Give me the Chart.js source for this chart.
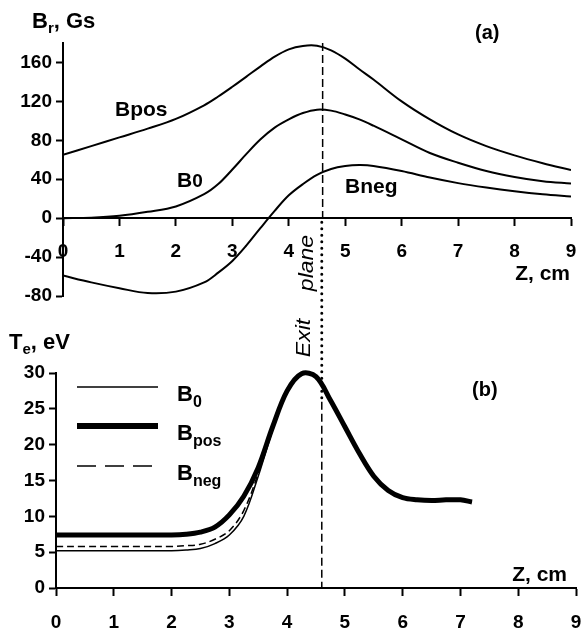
<!DOCTYPE html>
<html>
<head>
<meta charset="utf-8">
<script src="https://cdn.jsdelivr.net/npm/chart.js@4.4.0/dist/chart.umd.min.js"></script>
<style>
  body { margin: 0; background: #fff; }
  .box { position: absolute; left: 0; top: 0; width: 584px; height: 633px; }
</style>
</head>
<body>
<div class="box"><canvas id="fieldChart"></canvas></div>
<div class="box"><canvas id="tempChart"></canvas></div>
<script>
// (a) radial magnetic field, Gs
const zField = [0, 0.5, 1, 1.5, 2, 2.5, 2.75, 3, 3.25, 3.5, 3.75, 4, 4.25, 4.5, 4.75, 5, 5.25, 5.5, 6, 6.5, 7, 7.5, 8, 8.5, 9];
const bPos = [65, 74, 83, 92, 102, 116, 125, 135, 145.5, 156, 166, 173.5, 177, 177.2, 172.5, 164, 153, 142.5, 120, 101.5, 86, 74, 64.5, 56.5, 49.5];
const bZero = [0, 0.5, 2.4, 6.5, 12, 24.6, 35, 50, 66, 81, 93, 101.5, 108, 111.5, 110.5, 106.5, 101.5, 95, 81, 67, 57, 48.5, 42.4, 38, 35.6];
const bNeg = [-59, -66, -72, -77, -75.5, -66, -56, -44, -28, -10, 7.5, 23.5, 35, 44.5, 50.5, 53.5, 54.5, 53.7, 48.5, 41.7, 36, 31.5, 27.7, 24.6, 22.3];

// (b) electron temperature, eV
const zTemp = [0, 0.5, 1, 1.5, 2, 2.25, 2.5, 2.75, 3, 3.25, 3.5, 3.75, 4, 4.25, 4.5, 4.75, 5, 5.25, 5.5, 5.75, 6, 6.25, 6.5, 6.75, 7, 7.2];
const tePos = [7.4, 7.4, 7.4, 7.4, 7.4, 7.5, 7.8, 8.5, 10.2, 12.8, 16.8, 22.5, 27.5, 29.9, 29.5, 26.2, 22.5, 18.8, 15.6, 13.6, 12.6, 12.3, 12.2, 12.3, 12.3, 12.0];
const teZero = [5.2, 5.2, 5.2, 5.2, 5.2, 5.3, 5.5, 6.2, 7.4, 10.0, 15.6, 22.0, 27.5, 29.9, 29.5, 26.2, 22.5, 18.8, 15.6, 13.6, 12.6, 12.3, 12.2, 12.3, 12.3, 12.0];
const teNeg = [5.8, 5.8, 5.8, 5.8, 5.8, 5.9, 6.1, 6.8, 8.0, 10.8, 16.0, 22.2, 27.5, 29.9, 29.5, 26.2, 22.5, 18.8, 15.6, 13.6, 12.6, 12.3, 12.2, 12.3, 12.3, 12.0];

const exitZ = 4.6;
const FONT = '"Liberation Sans", Arial, Helvetica, sans-serif';
const tickFont = { family: FONT, size: 19, weight: 'bold' };

function pts(xs, ys) {
  return xs.map((x, i) => ({ x: x, y: ys[i] }));
}

function drawParts(ctx, x, y, parts, align) {
  let w = 0;
  parts.forEach(p => {
    ctx.font = 'bold ' + p.size + 'px ' + FONT;
    w += ctx.measureText(p.t).width;
  });
  if (align === 'right') x -= w;
  parts.forEach(p => {
    ctx.font = 'bold ' + p.size + 'px ' + FONT;
    ctx.fillText(p.t, x, y + (p.dy || 0));
    x += ctx.measureText(p.t).width;
  });
}

function drawRotated(ctx, text, cx, cy) {
  ctx.save();
  ctx.translate(cx, cy);
  ctx.rotate(-Math.PI / 2);
  ctx.scale(1.15, 1);
  ctx.font = 'italic 20px ' + FONT;
  ctx.textAlign = 'center';
  ctx.textBaseline = 'middle';
  ctx.fillText(text, 0, 0);
  ctx.restore();
}

function textPlugin(items, rotated) {
  return {
    id: 'texts',
    afterDraw(chart) {
      const ctx = chart.ctx;
      ctx.save();
      ctx.fillStyle = '#000';
      ctx.textBaseline = 'alphabetic';
      items.forEach(it => drawParts(ctx, it.x, it.y, it.parts, it.align));
      rotated.forEach(r => drawRotated(ctx, r.t, r.x, r.y));
      ctx.restore();
    }
  };
}

function strokeV(ctx, x, y1, y2, width, dash, cap) {
  ctx.beginPath();
  ctx.lineWidth = width;
  ctx.lineCap = cap || 'butt';
  ctx.setLineDash(dash);
  ctx.moveTo(x, y1);
  ctx.lineTo(x, y2);
  ctx.stroke();
}

let fieldChart;

const fieldPlane = {
  id: 'plane',
  beforeDatasetsDraw(chart) {
    const { ctx, scales: { x, y } } = chart;
    const px = x.getPixelForValue(exitZ);
    ctx.save();
    ctx.strokeStyle = '#000';
    strokeV(ctx, px, y.getPixelForValue(180), y.getPixelForValue(0), 1.5, [8, 4]);
    ctx.restore();
  }
};

const tempPlane = {
  id: 'plane',
  beforeDatasetsDraw(chart) {
    const { ctx, scales: { x, y } } = chart;
    const px = x.getPixelForValue(exitZ);
    const top = fieldChart.scales.y.getPixelForValue(0);
    ctx.save();
    ctx.strokeStyle = '#000';
    strokeV(ctx, px, top + 4, y.getPixelForValue(26), 3, [0, 6.5], 'round');
    strokeV(ctx, px, y.getPixelForValue(26), y.getPixelForValue(0), 1.5, [8, 4]);
    ctx.restore();
  }
};

const legendPlugin = {
  id: 'sideLegend',
  afterDatasetsDraw(chart) {
    const ctx = chart.ctx;
    const rows = [
      { ds: 0, y: 387, sub: '0' },
      { ds: 1, y: 426, sub: 'pos' },
      { ds: 2, y: 466, sub: 'neg' }
    ];
    ctx.save();
    ctx.strokeStyle = '#000';
    ctx.fillStyle = '#000';
    rows.forEach(r => {
      const d = chart.data.datasets[r.ds];
      ctx.beginPath();
      ctx.lineWidth = d.borderWidth === 5 ? 6 : d.borderWidth;
      ctx.setLineDash(d.borderDash ? [19, 9] : []);
      ctx.moveTo(77, r.y);
      ctx.lineTo(158, r.y);
      ctx.stroke();
      drawParts(ctx, 177, r.y + 14, [{ t: 'B', size: 22 }, { t: r.sub, size: 16, dy: 6 }]);
    });
    ctx.restore();
  }
};

function axisCommon(extra) {
  return Object.assign({
    type: 'linear',
    grid: { drawOnChartArea: false, drawTicks: true, tickLength: 7, tickWidth: 2, tickColor: '#000', color: '#000' },
    border: { display: true, color: '#000', width: 2 }
  }, extra);
}

fieldChart = new Chart(document.getElementById('fieldChart'), {
  type: 'line',
  data: {
    datasets: [
      { label: 'Bpos', data: pts(zField, bPos) },
      { label: 'B0', data: pts(zField, bZero) },
      { label: 'Bneg', data: pts(zField, bNeg) }
    ]
  },
  options: {
    responsive: true,
    maintainAspectRatio: false,
    animation: false,
    layout: { padding: { left: 0, right: 13, top: 43, bottom: 337 } },
    plugins: { legend: { display: false }, tooltip: { enabled: false } },
    elements: {
      point: { radius: 0 },
      line: { borderColor: '#000', borderWidth: 2, tension: 0.35, capBezierPoints: false, fill: false }
    },
    scales: {
      x: axisCommon({
        min: 0, max: 9, position: { y: 0 },
        ticks: { stepSize: 1, color: '#000', font: tickFont, padding: 15, maxRotation: 0 },
        afterFit(s) { s.paddingLeft = 0; s.paddingRight = 0; }
      }),
      y: axisCommon({
        min: -80, max: 180,
        ticks: { stepSize: 40, includeBounds: false, color: '#000', font: tickFont, padding: 4 },
        afterFit(s) { s.width = 63; s.paddingTop = 0; s.paddingBottom = 0; }
      })
    }
  },
  plugins: [fieldPlane, textPlugin([
    { x: 32, y: 28, parts: [{ t: 'B', size: 22 }, { t: 'r', size: 15, dy: 5 }, { t: ', Gs', size: 22 }] },
    { x: 475, y: 39, parts: [{ t: '(a)', size: 20 }] },
    { x: 115, y: 116, parts: [{ t: 'Bpos', size: 21 }] },
    { x: 177, y: 187, parts: [{ t: 'B', size: 21 }, { t: '0', size: 19 }] },
    { x: 345, y: 193, parts: [{ t: 'Bneg', size: 21 }] },
    { x: 570, y: 280, align: 'right', parts: [{ t: 'Z, cm', size: 21 }] }
  ], [{ t: 'plane', x: 307, y: 263 }])]
});

new Chart(document.getElementById('tempChart'), {
  type: 'line',
  data: {
    datasets: [
      { label: 'B0', data: pts(zTemp, teZero), borderWidth: 1.5, order: 2 },
      { label: 'Bpos', data: pts(zTemp, tePos), borderWidth: 5, order: 0, clip: false },
      { label: 'Bneg', data: pts(zTemp, teNeg), borderWidth: 1.5, borderDash: [7, 4], order: 1 }
    ]
  },
  options: {
    responsive: true,
    maintainAspectRatio: false,
    animation: false,
    layout: { padding: { left: 0, right: 8, top: 373, bottom: 45 } },
    plugins: { legend: { display: false }, tooltip: { enabled: false } },
    elements: {
      point: { radius: 0 },
      line: { borderColor: '#000', tension: 0.35, capBezierPoints: false, fill: false }
    },
    scales: {
      x: axisCommon({
        min: 0, max: 9, position: { y: 0 },
        ticks: { stepSize: 1, color: '#000', font: tickFont, padding: 16, maxRotation: 0 },
        afterFit(s) { s.paddingLeft = 0; s.paddingRight = 0; }
      }),
      y: axisCommon({
        min: 0, max: 30,
        ticks: { stepSize: 5, color: '#000', font: tickFont, padding: 4 },
        afterFit(s) { s.width = 56; s.paddingTop = 0; s.paddingBottom = 0; }
      })
    }
  },
  plugins: [tempPlane, legendPlugin, textPlugin([
    { x: 9, y: 349, parts: [{ t: 'T', size: 22 }, { t: 'e', size: 15, dy: 5 }, { t: ', eV', size: 22 }] },
    { x: 472, y: 396, parts: [{ t: '(b)', size: 20 }] },
    { x: 567, y: 581, align: 'right', parts: [{ t: 'Z, cm', size: 21 }] }
  ], [{ t: 'Exit', x: 304, y: 338 }])]
});
</script>
</body>
</html>
